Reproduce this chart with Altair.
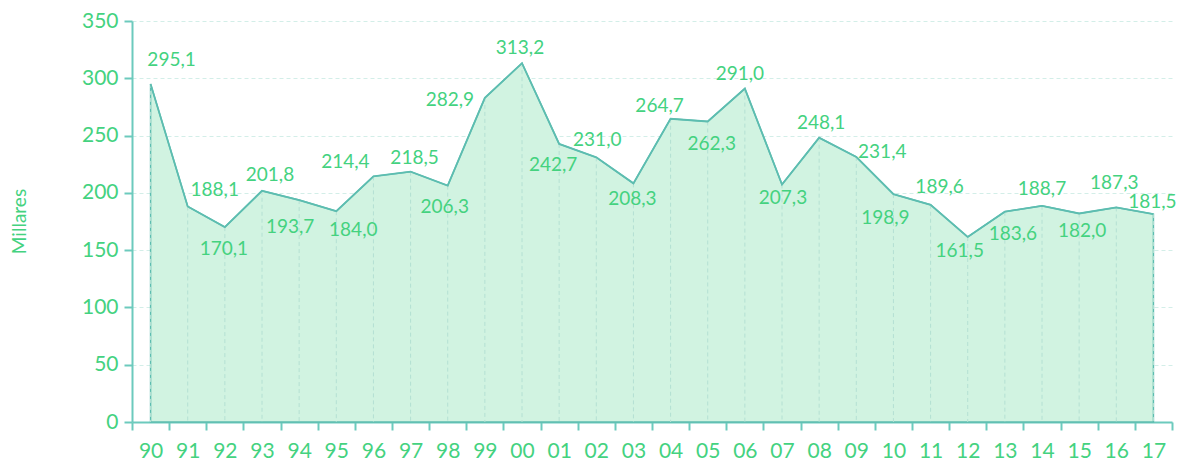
import altair as alt
import pandas as pd

years = ["90", "91", "92", "93", "94", "95", "96", "97", "98", "99",
         "00", "01", "02", "03", "04", "05", "06", "07", "08", "09",
         "10", "11", "12", "13", "14", "15", "16", "17"]
values = [295.1, 188.1, 170.1, 201.8, 193.7, 184.0, 214.4, 218.5, 206.3, 282.9,
          313.2, 242.7, 231.0, 208.3, 264.7, 262.3, 291.0, 207.3, 248.1, 231.4,
          198.9, 189.6, 161.5, 183.6, 188.7, 182.0, 187.3, 181.5]

# label placement relative to each point (pixels)
label_dx = [21, 27, -1, 8, -9, 17, -28, 4, -3, -35,
            -2, -6, 1, -1, -11, 4, -5, 1, 2, 26,
            -8, 9, -8, 8, 0, 3, -2, -1]
label_dy = [-24, -16, 22, -16, 27, 19, -14, -14, 21, 2,
            -15, 21, -17, 16, -13, 23, -15, 14, -15, -5,
            24, -18, 14, 22, -17, 18, -24, -12]

df = pd.DataFrame({
    "year": years,
    "value": values,
    "label": [f"{v:.1f}".replace(".", ",") for v in values],
    "ldx": label_dx,
    "ldy": label_dy,
})

TEXT = "#44d27f"
AXIS = "#6ccabd"
LINE = "#5dbdb0"
FILL = "#d1f3e1"
GRID = "#d3eee8"
DROP = "#b4e0d3"
FONT = "Lato"

x_enc = alt.X(
    "year:O", sort=years, bandPosition=0.5,
    scale=alt.Scale(type="band", paddingInner=0, paddingOuter=0),
    axis=alt.Axis(
        title=None, tickBand="extent", labelAngle=0, labelFontSize=21,
        labelColor=TEXT, labelFont=FONT, domainColor=AXIS, domainWidth=2,
        tickColor=AXIS, tickWidth=2, tickSize=8, labelPadding=10, grid=False,
    ),
)
y_enc = alt.Y(
    "value:Q",
    scale=alt.Scale(domain=[0, 350], nice=False),
    axis=alt.Axis(
        title="Millares", values=list(range(0, 351, 50)), labelFontSize=21,
        labelColor=TEXT, labelFont=FONT, domainColor=AXIS, domainWidth=2,
        tickColor=AXIS, tickWidth=2, tickSize=8, labelPadding=6,
        grid=True, gridColor=GRID, gridDash=[4, 3], gridWidth=1,
        titleColor=TEXT, titleFont=FONT, titleFontSize=19, titleFontWeight="normal",
        titleAngle=-90, titleX=-113, titleY=200, titleAlign="center",
        titleBaseline="middle",
    ),
)

base = alt.Chart(df)

area = base.mark_area(
    color=FILL, opacity=1, line=False, stroke=LINE, strokeWidth=1.5,
).encode(x=x_enc, y=y_enc)

drops = base.mark_rule(color=DROP, strokeDash=[4, 3], strokeWidth=1).encode(
    x=alt.X("year:O", sort=years, bandPosition=0.5),
    y=alt.Y("value:Q"),
    y2=alt.datum(0),
)

line = base.mark_line(color=LINE, strokeWidth=1.8).encode(
    x=alt.X("year:O", sort=years, bandPosition=0.5),
    y=alt.Y("value:Q"),
)

labels = base.mark_text(
    font=FONT, fontSize=19, color=TEXT, align="center", baseline="middle",
    dx=alt.ExprRef(expr="datum.ldx"), dy=alt.ExprRef(expr="datum.ldy"),
).encode(
    x=alt.X("year:O", sort=years, bandPosition=0.5),
    y=alt.Y("value:Q"),
    text="label:N",
)

chart = alt.layer(area, drops, line, labels).properties(
    width=1040, height=401,
    background="white",
    autosize=alt.AutoSizeParams(type="none"),
    padding={"left": 124, "top": 13, "right": 5, "bottom": 40},
).configure_view(stroke=None)

chart.save("out.html", embed_options={"renderer": "svg", "actions": False})
